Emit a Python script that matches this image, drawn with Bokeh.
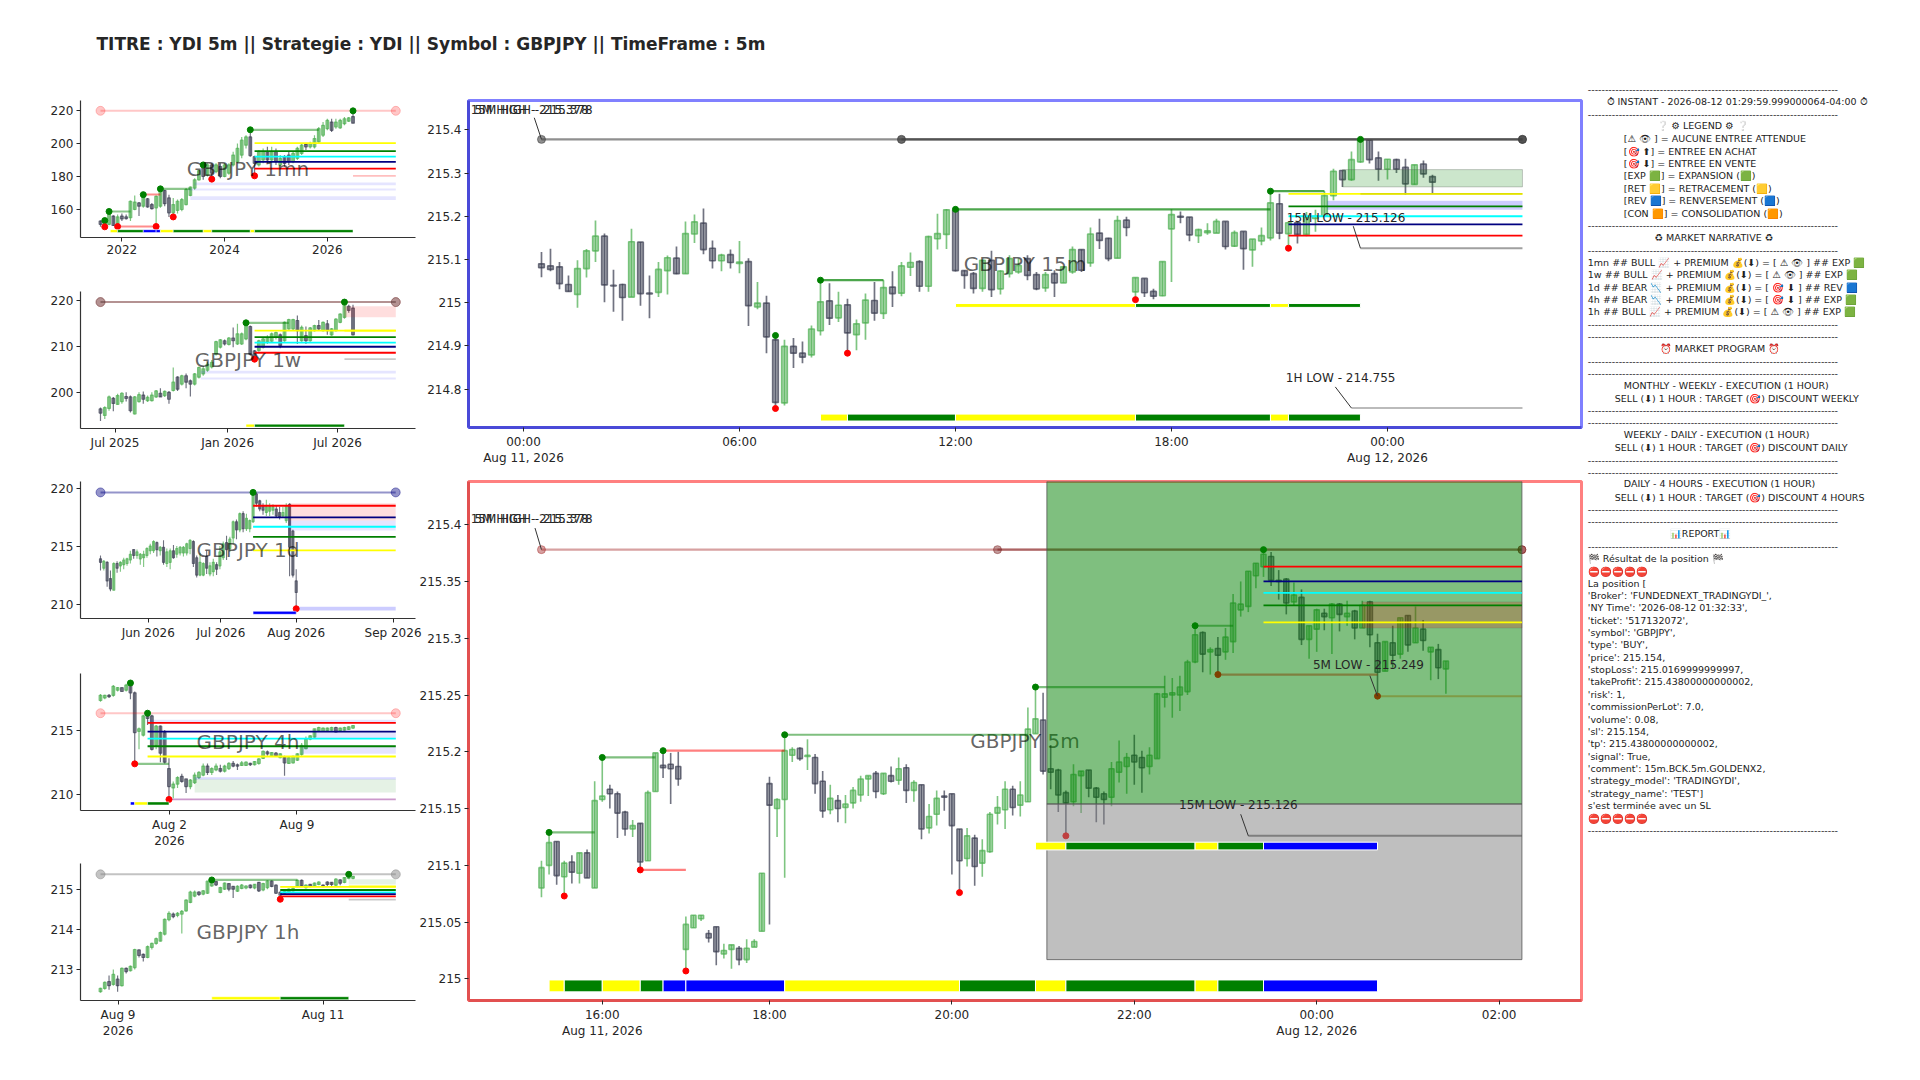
from bokeh.plotting import figure
from bokeh.layouts import column, row
from bokeh.models import FixedTicker
from bokeh.core.properties import value
from bokeh.embed import file_html
from bokeh.resources import INLINE

# ---------- 15 minute chart ----------
m15_dir = list("ddddgggddd" "gddggdggdd" "gdgdgddgdd" "ggdgdggdgd" "ggdgggdddg" "dgggddgdgg" "dgddgdgddg" "gddgggdgdg" "ggdgdggggd" "ggddgddgdd")
m15_high = [215.117,215.125,215.094,215.063,215.098,215.124,215.190,215.160,215.076,215.044,
 215.171,215.140,215.063,215.094,215.109,215.130,215.188,215.204,215.218,215.144,
 215.113,215.123,215.143,215.103,215.048,215.016,214.924,214.914,214.918,214.910,
 214.947,215.052,215.045,215.025,215.009,214.961,215.021,215.048,215.052,215.073,
 215.094,215.116,215.098,215.155,215.206,215.217,215.217,215.075,215.071,215.098,
 215.120,215.075,215.110,215.102,215.110,215.071,215.071,215.075,215.083,215.130,
 215.123,215.174,215.194,215.150,215.201,215.199,215.058,215.056,215.032,215.095,
 215.216,215.211,215.198,215.171,215.184,215.194,215.188,215.167,215.165,215.147,
 215.174,215.258,215.252,215.188,215.187,215.210,215.215,215.258,215.310,215.306,
 215.350,215.378,215.376,215.350,215.332,215.333,215.333,215.319,215.329,215.296]
m15_top = [215.090,215.085,215.083,215.042,215.079,215.120,215.154,215.154,215.040,215.042,
 215.141,215.140,215.022,215.077,215.104,215.103,215.160,215.187,215.184,215.126,
 215.110,215.111,215.094,215.095,214.999,214.999,214.914,214.899,214.899,214.883,
 214.939,215.002,215.004,214.994,214.995,214.951,215.006,215.005,215.035,215.036,
 215.085,215.093,215.095,215.153,215.160,215.215,215.214,215.074,215.067,215.098,
 215.098,215.073,215.102,215.086,215.102,215.065,215.065,215.067,215.083,215.123,
 215.123,215.159,215.161,215.149,215.190,215.191,215.058,215.056,215.026,215.095,
 215.204,215.200,215.198,215.169,215.166,215.188,215.188,215.162,215.165,215.147,
 215.155,215.231,215.229,215.185,215.185,215.198,215.200,215.248,215.304,215.306,
 215.331,215.376,215.376,215.335,215.332,215.331,215.313,215.319,215.321,215.292]
m15_bot = [215.081,215.077,215.044,215.026,215.019,215.079,215.120,215.041,215.039,215.012,
 215.013,215.021,215.020,215.024,215.074,215.067,215.067,215.159,215.123,215.097,
 215.097,215.093,215.091,214.993,214.990,214.921,214.769,214.768,214.883,214.874,
 214.879,214.935,214.964,214.965,214.930,214.926,214.953,214.976,214.975,215.021,
 215.022,215.082,215.038,215.038,215.148,215.158,215.074,215.063,215.033,215.033,
 215.030,215.032,215.067,215.071,215.063,215.032,215.034,215.046,215.046,215.071,
 215.075,215.092,215.144,215.102,215.103,215.174,215.025,215.023,215.015,215.016,
 215.171,215.198,215.157,215.155,215.162,215.161,215.130,215.131,215.125,215.122,
 215.143,215.150,215.161,215.160,215.158,215.158,215.195,215.200,215.248,215.285,
 215.285,215.326,215.331,215.309,215.309,215.309,215.275,215.274,215.298,215.279]
m15_low = [215.059,215.073,215.031,215.025,214.988,215.058,215.094,215.001,214.979,214.958,
 215.013,214.993,214.964,215.013,215.019,215.066,215.067,215.138,215.112,215.079,
 215.073,215.079,215.068,214.946,214.985,214.883,214.762,214.762,214.849,214.860,
 214.873,214.924,214.948,214.955,214.883,214.890,214.914,214.958,214.962,214.990,
 215.015,215.062,215.025,215.025,215.123,215.124,215.072,215.032,215.021,215.025,
 215.013,215.019,215.058,215.067,215.052,215.029,215.025,215.013,215.046,215.067,
 215.071,215.083,215.124,215.096,215.103,215.154,215.007,215.013,215.008,215.015,
 215.048,215.184,215.142,215.138,215.157,215.161,215.123,215.129,215.076,215.083,
 215.133,215.144,215.147,215.129,215.137,215.154,215.164,215.200,215.237,215.268,
 215.282,215.324,215.322,215.282,215.285,215.300,215.250,215.273,215.289,215.254]
m15_xticks = [-2, 22, 46, 70, 94]
m15_xlabels = ["00:00\nAug 11, 2026", "06:00", "12:00", "18:00", "00:00\nAug 12, 2026"]
m15_yticks = [214.8, 214.9, 215.0, 215.1, 215.2, 215.3, 215.4]
m15_ylabels = ["214.8", "214.9", "215", "215.1", "215.2", "215.3", "215.4"]
m15_levels = [215.252, 215.223, 215.200, 215.181, 215.155]
m15_struct = [(46, 81, 215.216), (81, 87, 215.258), (31, 38, 215.052)]
m15_hi = [(26, 214.924), (31, 215.052), (46, 215.216), (81, 215.258), (91, 215.378)]
m15_lo = [(26, 214.755), (34, 214.883), (66, 215.007), (83, 215.126)]
m15_bar_x = [31, 34, 46, 66, 81, 83, 91]
m15_bar_c = ["#ffff00", "#008000", "#ffff00", "#008000", "#ffff00", "#008000"]

# ---------- 5 minute chart ----------
m5_dir = list("ggdgdgdggd" "ddgdggdddg" "ggddggdggg" "dgggdgddgd" "ggggdgdgdg" "dggdddgdgg" "ggdgggdddd" "ggdddgggdd" "gggggggdgd" "ggggggdddg" "dggdgdgdgd" "dgdgdgdgdg")
m5_high = [215.104,215.128,215.121,215.104,215.109,215.111,215.114,215.174,215.195,215.171,
 215.165,215.148,215.140,215.137,215.166,215.199,215.201,215.199,215.200,215.055,
 215.056,215.056,215.043,215.046,215.031,215.030,215.029,215.035,215.035,215.093,
 215.178,215.159,215.216,215.204,215.204,215.211,215.198,215.183,215.171,215.162,
 215.162,215.169,215.179,215.179,215.183,215.181,215.187,215.195,215.189,215.175,
 215.171,215.154,215.166,215.166,215.163,215.132,215.133,215.127,215.123,215.147,
 215.161,215.174,215.170,215.174,215.239,215.257,215.252,215.206,215.185,215.166,
 215.189,215.183,215.184,215.169,215.165,215.191,215.210,215.199,215.215,215.201,
 215.204,215.252,215.267,215.265,215.267,215.281,215.311,215.306,215.292,215.301,
 215.309,215.339,215.350,215.359,215.366,215.378,215.376,215.360,215.353,215.349,
 215.343,215.311,215.326,215.326,215.331,215.331,215.333,215.325,215.333,215.333,
 215.304,215.297,215.311,215.318,215.320,215.328,215.316,215.292,215.295,215.280]
m5_top = [215.098,215.120,215.121,215.102,215.103,215.111,215.111,215.157,215.161,215.167,
 215.163,215.147,215.135,215.137,215.164,215.199,215.188,215.189,215.187,215.048,
 215.056,215.056,215.040,215.046,215.025,215.030,215.027,215.027,215.033,215.093,
 215.172,215.158,215.201,215.202,215.203,215.197,215.195,215.174,215.159,215.157,
 215.154,215.166,215.176,215.179,215.181,215.181,215.179,215.185,215.186,215.173,
 215.171,215.143,215.159,215.161,215.163,215.132,215.126,215.124,215.113,215.145,
 215.151,215.167,215.167,215.162,215.220,215.229,215.228,215.185,215.184,215.164,
 215.180,215.183,215.184,215.168,215.163,215.185,215.191,215.195,215.197,215.195,
 215.197,215.251,215.251,215.252,215.257,215.279,215.303,215.305,215.290,215.291,
 215.301,215.331,215.330,215.359,215.366,215.374,215.372,215.351,215.352,215.338,
 215.336,215.311,215.325,215.322,215.330,215.330,215.322,215.324,215.329,215.332,
 215.296,215.297,215.296,215.318,215.320,215.309,215.308,215.292,215.290,215.280]
m5_bot = [215.080,215.100,215.091,215.090,215.094,215.093,215.089,215.080,215.158,215.163,
 215.146,215.132,215.132,215.103,215.104,215.165,215.186,215.185,215.176,215.026,
 215.045,215.053,215.036,215.024,215.022,215.026,215.017,215.017,215.028,215.042,
 215.153,215.150,215.158,215.197,215.194,215.196,215.172,215.148,215.149,215.150,
 215.151,215.155,215.162,215.176,215.165,215.163,215.174,215.175,215.166,215.166,
 215.132,215.133,215.145,215.160,215.135,215.104,215.106,215.099,215.102,215.112,
 215.146,215.149,215.151,215.153,215.156,215.216,215.183,215.182,215.162,215.155,
 215.156,215.179,215.168,215.160,215.158,215.160,215.182,215.187,215.191,215.186,
 215.187,215.194,215.248,215.250,215.250,215.253,215.279,215.286,215.288,215.285,
 215.288,215.297,215.325,215.328,215.355,215.363,215.351,215.350,215.331,215.332,
 215.299,215.299,215.308,215.319,215.318,215.321,215.319,215.309,215.309,215.303,
 215.270,215.271,215.285,215.286,215.294,215.296,215.298,215.288,215.274,215.273]
m5_low = [215.072,215.092,215.083,215.073,215.084,215.084,215.089,215.080,215.156,215.150,
 215.124,215.126,215.125,215.096,215.104,215.165,215.177,215.154,215.170,215.007,
 215.045,215.051,215.032,215.012,215.018,215.009,215.012,215.014,215.028,215.042,
 215.048,215.125,215.089,215.191,215.192,215.184,215.163,215.142,215.145,215.138,
 215.137,215.150,215.156,215.161,215.159,215.162,215.173,215.171,215.155,215.156,
 215.123,215.128,215.135,215.148,215.092,215.076,215.099,215.082,215.090,215.111,
 215.136,215.132,215.144,215.143,215.156,215.216,215.180,215.167,215.147,215.126,
 215.152,215.146,215.160,215.138,215.136,215.152,215.173,215.163,215.171,215.164,
 215.180,215.194,215.239,215.230,215.236,215.250,215.278,215.270,215.268,215.268,
 215.281,215.287,215.319,215.323,215.344,215.354,215.346,215.334,215.321,215.329,
 215.294,215.282,215.288,215.307,215.286,215.306,215.311,215.299,215.309,215.292,
 215.249,215.271,215.274,215.282,215.288,215.296,215.289,215.263,215.264,215.251]
m5_xticks = [8, 30, 54, 78, 102, 126]
m5_xlabels = ["16:00\nAug 11, 2026", "18:00", "20:00", "22:00", "00:00\nAug 12, 2026", "02:00"]
m5_yticks = [215.0, 215.05, 215.1, 215.15, 215.2, 215.25, 215.3, 215.35, 215.4]
m5_ylabels = ["215", "215.05", "215.1", "215.15", "215.2", "215.25", "215.3", "215.35", "215.4"]
m5_levels = [215.314, 215.329, 215.340, 215.350, 215.363]
m5_struct_g = [(1, 7, 215.129), (8, 15, 215.195), (32, 64, 215.215), (65, 82, 215.257), (86, 91, 215.311)]
m5_struct_r = [(16, 32, 215.201), (13, 19, 215.096), (89, 110, 215.268)]
m5_hi = [(1, 215.129), (8, 215.195), (16, 215.201), (32, 215.215), (65, 215.257), (86, 215.311), (95, 215.378)]
m5_lo = [(3, 215.073), (13, 215.096), (19, 215.007), (55, 215.076), (69, 215.126), (89, 215.268), (110, 215.249)]
m5_bar_x = [1, 3, 8, 13, 16, 19, 32, 55, 65, 69, 86, 89, 95, 110]
m5_bar_c = ["#ffff00", "#008000", "#ffff00", "#008000", "#0000ff", "#0000ff", "#ffff00", "#008000", "#ffff00", "#008000", "#ffff00", "#008000", "#0000ff"]
m5_entry, m5_sl, m5_tp = 215.154, 215.017, 215.438

# ---------- 1 month ----------
mn_dir = list("dggdgddggd" "gddggddggg" "ggggdgdgdg" "gggggddggd" "gdgddgggdg" "ggggdggggd")
mn_top = [153,153,158,156,155.5,156,155.5,165,164.5,164,168,166.5,163,168,172.5,171.5,167,163,165,166,172,173.5,178,183.5,185,187,187,187,186,187,187,193,197,202,204,204,192,195,195,195,195,195,191,192,193,194,197,199,199.5,200,203,209,211,214,213,213,214,215,215.5,216.3]
mn_bot = [151,150,151,150.3,151.5,154.3,154.5,155,160,162,162,161.5,160.5,161,162,163.5,158,158,159.5,160,163,168.5,173,178,180,181,182,183,180,180,182,187,189,193,199,192.7,188,187,190,190,190,189,187,188,189,189,191,194,198,198,198,201,205,209,208,210,209.5,212,213.5,212.3]
mn_high = [153.5,153.3,158.8,156.5,157,157.5,157,165.5,168.5,164.5,169,167,164,168.5,173,172,169,167,166,167,173,174,179,184,187,188,188,188,188,188,188,195,200,204,205,208.3,192.5,196,197,198,198,197,193,193,195,195,198,200,200,201,205,210,213,215,215,215,215,216,216,219.8]
mn_low = [149.5,149.5,150.5,150,149.7,153,154,153,159.5,156,161,161,160,149.7,161,162,155.5,155.5,157.5,159,162.5,168,172,177.5,178,180,178.4,182,179,179.5,181,186,188,191,197,192,180.4,186,188,188,189,187,186,186,187,188,190,193,196,197,197,200,204,208,207,209,209,211,213,212.3]
mn_xticks, mn_xlabels = [5, 29, 53], ["2022", "2024", "2026"]
mn_yticks, mn_ylabels = [160, 180, 200, 220], ["160", "180", "200", "220"]
mn_levels = [200.2, 195.4, 192.1, 188.9, 184.8]
mn_struct_g = [(2, 7, 158.8), (14, 21, 172.5), (35, 51, 208.3)]
mn_struct_r = [(10, 14, 169.1), (4, 13, 149.7)]
mn_hi = [(1, 153.3), (2, 158.8), (10, 169), (14, 172.5), (24, 187), (35, 208.3), (59, 219.8)]
mn_lo = [(1, 149.5), (4, 149.7), (13, 149.7), (17, 155.5), (26, 178.4), (36, 180.4)]
mn_bar_x = [2.3, 4, 10, 13, 14, 17, 24, 26, 35, 36, 59]
mn_bar_c = ["#ffff00", "#008000", "#0000ff", "#0000ff", "#ffff00", "#008000", "#ffff00", "#008000", "#ffff00", "#008000"]

# ---------- 1 week ----------
w1_dir = list("dggdggddgg" "dgggdgdgdg" "ddgggggggd" "gdgggddggg" "ggdgggdgdg" "gdgdggggdd")
w1_top = [196.4,196.7,199,198.7,199.3,199.8,199.1,199,199,199.5,199.4,198.9,199.4,200.3,199.8,200.2,200,202.2,203.3,203.6,203.6,202.5,204,205.4,205.1,206.1,206.5,211,211.4,211.2,211.8,211.8,212.7,212.7,214.5,214.3,209,211.2,211.6,211.9,212.7,213,212.5,215.2,215.8,215.8,215.6,214.1,212.3,214,214.5,214.5,215.2,214.9,213.8,215.9,217,219.2,218.7,218.3]
w1_bot = [195.5,195,196.5,197.6,197.4,198,198.7,196,195.3,198,198.5,198.2,198.2,199,199,199.3,198.5,200.4,200.7,201.8,202.2,201.8,201.8,203.3,204,204.8,205.5,208.3,209.8,210.5,210.4,211.2,210.5,210.5,211.6,208.3,207.6,209.1,209.8,210.9,211.1,212,210.1,211.2,213.8,213.8,213.4,211.2,211.2,211.2,213.4,213.8,213.4,213.4,212.5,213.4,215.2,216.3,217.8,212.5]
w1_high = [196.7,197,199.3,199,199.7,200,200,199.3,199.2,200,200.2,199.3,200,200.5,200.9,200.4,200.3,205.4,203.5,203.8,204.1,202.8,204.2,205.6,205.7,206.6,207,211.2,211.6,211.5,212,214.1,214.9,213,215.2,214.5,209.2,211.4,211.8,212.4,213,213.2,212.8,215.4,216,216,216.7,214.5,214.3,214.2,214.7,215.7,215.4,215.7,214,216.1,217.2,219.6,219,219]
w1_low = [193.8,194.2,196,195.9,197.3,197.5,198,195.6,195.2,197.8,197.5,197.9,198,198.8,199,199,197.5,200.2,200.3,201.5,200.9,199.1,201.5,203,203.6,204.5,205.2,208,209.5,210.2,210.2,209.8,210.3,210.3,211.3,208,207.2,208.8,209.5,210.5,210.8,211.5,209.6,211,213.6,213.5,210.5,211,210.5,211,213.2,213.5,213.2,212.5,212.3,213.2,215,216,217.3,212.4]
w1_xticks, w1_xlabels = [3.4, 29.7, 55.4], ["Jul 2025", "Jan 2026", "Jul 2026"]
w1_yticks, w1_ylabels = [200, 210, 220], ["200", "210", "220"]
w1_levels = [213.4, 212.0, 210.8, 209.9, 208.6]
w1_struct_g = [(34, 44, 215.1)]
w1_hi = [(34, 215.1), (57, 219.6)]
w1_lo = [(36, 207.2)]
w1_bar_x = [34, 36, 57]
w1_bar_c = ["#ffff00", "#008000"]

# ---------- 1 day ----------
d1_dir = list("dgddgdgggg" "dggggggdgd" "ggdgggggdd" "ggdggdggdg" "gdgdgggddd" "gggddggddd")
d1_top = [213.9,213.7,213.6,212.2,213.5,213.5,213.6,213.8,213.9,214.3,214.7,214.5,214.3,214.3,214.8,215,215.4,215.3,214.9,214.9,214.5,214.6,214.6,214.8,214.9,214.9,215.2,215.5,215.4,214,213.6,213.5,214.1,213.3,213.6,213.4,214.5,215.2,215.3,215.6,217.1,217.1,217.8,217.8,217.4,217.2,219.4,219.5,218.9,218.5,218.4,218.4,218.4,218.2,217.9,217.9,218.5,218.6,216.3,212]
d1_bot = [213.6,213.1,212,211.3,211.2,213.1,213.3,213.4,213.5,213.8,214.2,214.2,213.9,214,214.2,214.6,214.6,214.7,214.6,213.6,213.5,213.6,214,214.3,214.4,214.4,214.4,214.8,213.5,212.5,212.5,212.5,213.1,212.6,212.8,213,213.3,214,214.7,214.8,215.7,216.4,216.4,216.5,216.5,216.5,217.1,218.7,218.2,218.1,217.9,218,218.1,217.6,217.5,217.6,217.2,214.9,212.5,211]
d1_high = [214.2,213.8,213.7,212.9,213.6,213.7,213.7,214,214,214.6,214.7,214.7,214.4,214.6,214.9,215.2,215.5,215.4,215,215.5,214.8,214.8,215.1,215,215,215,215.3,215.6,215.5,214.2,214.4,213.6,214.6,213.6,213.9,213.6,215,215.4,215.9,215.8,217.2,217.3,217.9,218,217.8,217.3,219.63,219.6,219,218.7,219,218.7,218.6,218.5,218.4,218.4,218.7,218.7,216.4,213]
d1_low = [212.9,212.9,211.5,211.1,211.2,212.7,212.8,213,213.3,213.5,213.9,213.9,213.4,213.2,214,214.3,214.4,214.1,214.2,213.4,213.2,213,213.9,214,214.2,214.1,214.2,214.3,213.2,212.3,212.4,212.4,212.6,212.4,212.4,212.5,213,213.8,213.8,214.5,215.2,215.6,216.2,216.2,216.3,216.2,217,218.4,218,217.7,217.6,217.6,217.7,217.5,217.3,217.5,217,212.4,212.3,209.6]
d1_xticks, d1_xlabels = [14.4, 36.3, 59, 88.2], ["Jun 2026", "Jul 2026", "Aug 2026", "Sep 2026"]
d1_yticks, d1_ylabels = [210, 215, 220], ["210", "215", "220"]
d1_levels = [214.63, 215.8, 216.67, 217.47, 218.48]
d1_hi = [(46, 219.63)]
d1_lo = [(59, 209.6)]
d1_bar_x = [46, 59]
d1_bar_c = ["#0000ff"]

# ---------- 4 hours ----------
h4_dir = list("ggdggdgddg" "gddgdddggd" "dggggdggdg" "gddggdgggd" "gdgdgggggg" "gggggdgggg")
h4_top = [217.7,217.7,217.7,218.4,218.3,218.3,218.5,218.5,217.9,215.1,216.1,216.1,216.1,215.3,215.3,214.8,212,210.8,211.3,211.4,211.2,211.1,211.5,211.7,212.2,212.2,212,212.2,212,212.2,212.4,212.4,212.3,212.45,212.5,212.4,212.55,212.75,213.35,213.3,213.25,213.2,213.15,212.9,212.85,212.95,213.15,213.8,214.3,214.55,215.1,215.2,215.15,215.15,215.2,215.2,215.15,215.2,215.25,215.35]
h4_bot = [217.3,217.5,217.6,217.7,218.1,218,218.1,217.9,214.8,214.9,214.6,215.9,213.5,213.8,213.2,212.5,210.6,210.5,210.8,211,210.6,210.6,210.9,211.3,211.5,211.7,211.7,211.9,211.8,211.8,212,212.2,212.2,212.25,212.25,212.3,212.3,212.4,212.8,213.15,213,213,212.85,212.45,212.4,212.45,212.65,213.1,213.55,214.3,214.45,214.95,214.9,214.95,215,214.85,214.95,215,215.05,215.15]
h4_high = [217.8,217.75,217.8,218.5,218.35,218.3,218.6,218.66,218,215.2,216.2,216.31,216.2,215.4,215.35,215,212.8,211,211.4,211.6,211.2,211.2,211.7,211.8,212.4,212.4,212.1,212.4,212.3,212.3,212.5,212.6,212.4,212.6,212.55,212.45,212.6,212.8,213.4,213.4,213.3,213.3,213.2,213,212.95,213,213.2,214,214.5,214.6,215.1,215.25,215.2,215.2,215.25,215.25,215.2,215.25,215.3,215.4]
h4_low = [217.2,217.4,217.5,217.6,218,218,218,217.4,212.37,213.5,214.5,215.4,213.4,213.5,212.5,212.4,209.6,209.7,210.5,210.9,210.1,210.4,210.8,211.2,211.4,211.5,211.5,211.8,211.7,211.7,211.9,212.1,211.9,212.2,212.2,212.2,212.25,212.3,212.75,213,212.9,212.9,212.8,211.45,212.35,212.4,212.6,213,213.5,214.2,214.4,214.9,214.85,214.9,214.95,214.8,214.9,214.95,215,215.1]
h4_xticks, h4_xlabels = [16.1, 45.9], ["Aug 2\n2026", "Aug 9"]
h4_yticks, h4_ylabels = [210, 215], ["210", "215"]
h4_levels = [212.94, 213.74, 214.34, 214.88, 215.56]
h4_struct_g = [(8, 16, 212.37)]
h4_hi = [(7, 218.66), (11, 216.31)]
h4_lo = [(8, 212.37), (16, 209.6)]
h4_bar_x = [7, 8, 11, 16]
h4_bar_c = ["#0000ff", "#ffff00", "#008000"]

# ---------- 1 hour ----------
h1_dir = list("ggdgdgdggd" "dggggggdgg" "gggdgggdgg" "ddgggdgdgg" "dddggggdgd" "ggdddgdggg")
h1_top = [212.53,212.68,212.7,212.88,212.76,213.03,213.03,213.08,213.5,213.49,213.38,213.57,213.65,213.77,213.92,214.25,214.4,214.38,214.4,214.45,214.73,214.93,214.93,214.93,214.96,215.2,215.25,215.19,215.04,215.15,215.14,215.07,215.07,215.1,215.08,215.1,215.12,215.17,215.14,215.2,215.2,215.1,214.92,214.96,215,215.02,215.22,215.22,215.1,215.12,215.15,215.18,215.1,215.18,215.17,215.25,215.23,215.29,215.37,215.32]
h1_bot = [212.45,212.53,212.6,212.63,212.6,212.6,212.95,212.97,213.05,213.35,213.3,213.3,213.55,213.65,213.71,213.88,214.24,214.32,214.35,214.38,214.46,214.67,214.83,214.87,214.88,214.9,215.08,215.11,214.92,215,215,215,214.95,215.02,215.03,215.04,215.03,214.96,214.98,215.04,215.07,214.9,214.85,214.9,214.93,214.96,215.07,215.08,215.04,215.07,215.08,215.12,215.07,215.12,215.12,215.1,215.15,215.17,215.27,215.27]
h1_high = [212.55,212.7,212.85,213,212.85,213.05,213.05,213.1,213.52,213.5,213.4,213.6,213.67,213.8,213.95,214.27,214.45,214.42,214.43,214.48,214.75,214.96,214.97,214.95,214.98,215.2,215.25,215.2,215.06,215.17,215.15,215.08,215.1,215.13,215.1,215.12,215.13,215.18,215.16,215.22,215.22,215.12,214.95,214.98,215.02,215.04,215.24,215.24,215.12,215.13,215.17,215.2,215.12,215.2,215.18,215.27,215.25,215.3,215.38,215.33]
h1_low = [212.42,212.5,212.5,212.6,212.45,212.58,212.9,212.95,213,213.3,213.2,213.28,213.5,213.62,213.7,213.85,214.2,214.28,214.3,213.9,214.44,214.65,214.8,214.83,214.85,214.88,215.06,215.08,214.9,214.98,214.95,214.78,214.93,215,215,215.02,215,214.93,214.95,215,215.05,214.88,214.75,214.87,214.9,214.94,215.05,215.06,215.02,215.05,215.06,215.1,215.05,215.08,215.08,215.08,215.1,215.15,215.25,215.25]
h1_xticks, h1_xlabels = [4.1, 52], ["Aug 9\n2026", "Aug 11"]
h1_yticks, h1_ylabels = [213, 214, 215], ["213", "214", "215"]
h1_levels = [215.06, 214.98, 214.92, 214.88, 214.82]
h1_struct_g = [(26, 46, 215.23)]
h1_hi = [(26, 215.23), (58, 215.37)]
h1_lo = [(42, 214.75)]
h1_bar_x = [26, 42, 58]
h1_bar_c = ["#ffff00", "#008000"]

level_colors = ["#ffff00", "#008000", "#00ffff", "#000080", "#ff0000"]
FONT = "DejaVu Sans"
TXT = "#262626"
GREEN, DARK = "#4caf50", "#3a3d50"


def make(frame_h, bottom, left, right, frame_w, xr, yr, xticks, xlabels, yticks, ylabels, box=None, top=6):
    p = figure(width=left + frame_w + right, height=top + frame_h + bottom, frame_width=frame_w, frame_height=frame_h,
               x_range=xr, y_range=yr, output_backend="svg", toolbar_location=None,
               min_border_left=left, min_border_right=right, min_border_top=top, min_border_bottom=bottom)
    p.grid.visible = False
    p.background_fill_color = "white"
    for ax, ticks, labels in ((p.xaxis[0], xticks, xlabels), (p.yaxis[0], yticks, ylabels)):
        ax.ticker = FixedTicker(ticks=ticks)
        ax.major_label_overrides = dict(zip(ticks, labels))
        ax.minor_tick_line_color = None
        ax.major_tick_out = 4
        ax.major_tick_in = 0
        ax.major_tick_line_color = "#262626"
        ax.major_label_text_font = FONT
        ax.major_label_text_font_size = "12px"
        ax.major_label_text_color = TXT
        ax.major_label_standoff = 3
        ax.axis_line_color = "#333333" if box is None else box[1]
        ax.axis_line_width = 1.2 if box is None else 3
    if box is None:
        p.outline_line_color = None
    else:
        p.outline_line_color = box[0]
        p.outline_line_width = 3
        p.border_fill_color = None
    return p


def candles(p, top, bot, high, low, dirs, w=0.62, lw=1.2):
    for name, arr in (("bot", bot), ("high", high), ("low", low), ("dirs", dirs)):
        if len(arr) != len(top):
            raise ValueError(f"{name} {len(arr)} != {len(top)}")
    for code, col in (("g", GREEN), ("d", DARK)):
        idx = [i for i, d in enumerate(dirs) if d == code]
        p.segment(idx, [high[i] for i in idx], idx, [low[i] for i in idx],
                  line_color=col, line_alpha=0.72, line_width=lw)
        p.vbar(x=idx, width=w, top=[top[i] for i in idx], bottom=[bot[i] for i in idx],
               fill_color=col, fill_alpha=0.42, line_color=col, line_alpha=0.72, line_width=lw)


def zone(p, x0, x1, y0, y1, color, alpha, edge=0.0):
    p.quad(left=[x0], right=[x1], bottom=[y0], top=[y1], fill_color=color, fill_alpha=alpha,
           line_color="#555555", line_alpha=edge, line_width=1)


def hline(p, x0, x1, y, color, alpha=1.0, lw=1.8):
    p.segment([x0], [y], [x1], [y], line_color=color, line_alpha=alpha, line_width=lw)


def levels(p, x0, x1, ys, lw=1.8):
    for y, c in zip(ys, level_colors):
        hline(p, x0, x1, y, c, 1.0, lw)


def structs(p, items, color, alpha=0.5, lw=2.2):
    for x0, x1, y in items:
        hline(p, x0, x1, y, color, alpha, lw)


def dots(p, items, color, size):
    p.scatter([a for a, _ in items], [b for _, b in items], size=size, fill_color=color, line_color=color)


def ends(p, x0, x1, y, color, alpha, size=9, lw=2):
    hline(p, x0, x1, y, color, alpha, lw)
    p.scatter([x0, x1], [y, y], size=size, fill_color=color, line_color=color, fill_alpha=alpha, line_alpha=alpha)


def bars(p, xs, cols, y0, y1, lw=1.0):
    for a, b, c in zip(xs[:-1], xs[1:], cols):
        p.quad(left=[a], right=[b], bottom=[y0], top=[y1], fill_color=c, line_color="white", line_width=lw)


def note(p, x, y, txt, size="12px", color="#262626", alpha=1.0):
    p.text([x], [y], text=[txt], text_font=value(FONT), text_font_size=size, text_color=color, text_alpha=alpha,
           text_align="center", text_baseline="middle")


def tag(p, name, xr, yr):
    note(p, (xr[0] + xr[1]) / 2, (yr[0] + yr[1]) / 2, name, "20px", "#000000", 0.62)


def callout(p, tx, ty, x0, y0, x1, y1, txt):
    note(p, tx, ty, txt)
    p.line([x0, x1], [y0, y1], line_color="#333333", line_width=1)


L, R, FW = 80, 8, 335

# 1mn
xr, yr = (-4.67, 73.6), (143.03, 226.06)
a1 = make(137, 48, L, R, FW, xr, yr, mn_xticks, mn_xlabels, mn_yticks, mn_ylabels, top=20)
candles(a1, mn_top, mn_bot, mn_high, mn_low, mn_dir)
for y0, y1, s in ((174.7, 176.4, 22), (171.5, 172.7, 20.5), (165.8, 168, 21)):
    zone(a1, s, 69, y0, y1, "#0000ff", 0.1)
levels(a1, 36, 69, mn_levels)
hline(a1, 59, 69, 180.4, "#ff0000", 0.25)
ends(a1, 0, 69, 219.8, "#ff0000", 0.22)
structs(a1, mn_struct_g, "#008000", 0.45)
structs(a1, mn_struct_r, "#ff0000", 0.45)
dots(a1, mn_hi, "#008000", 6)
dots(a1, mn_lo, "#ff0000", 6)
bars(a1, mn_bar_x, mn_bar_c, 146, 147.8, 0.5)
tag(a1, "GBPJPY 1mn", xr, yr)

# 1w
xr, yr = (-4.67, 73.6), (192.15, 221.9)
a2 = make(137, 47, L, R, FW, xr, yr, w1_xticks, w1_xlabels, w1_yticks, w1_ylabels)
candles(a2, w1_top, w1_bot, w1_high, w1_low, w1_dir)
zone(a2, 57, 69, 216.3, 218.7, "#ff0000", 0.13)
zone(a2, 23.4, 69, 204.1, 204.7, "#0000ff", 0.1)
zone(a2, 23.4, 69, 202.8, 203.2, "#0000ff", 0.1)
levels(a2, 36, 69, w1_levels)
hline(a2, 57, 69, 213.4, "#ffff00")
hline(a2, 57, 69, 207.2, "#888888", 0.45)
ends(a2, 0, 69, 219.6, "#ff0000", 0.22)
ends(a2, 0, 69, 219.6, "#444444", 0.4)
structs(a2, w1_struct_g, "#008000", 0.45)
dots(a2, w1_hi, "#008000", 6)
dots(a2, w1_lo, "#ff0000", 6)
bars(a2, w1_bar_x, w1_bar_c, 192.45, 193.1, 0.5)
tag(a2, "GBPJPY 1w", xr, yr)

# 1d
xr, yr = (-6.03, 94.97), (208.76, 220.57)
a3 = make(137, 49, L, R, FW, xr, yr, d1_xticks, d1_xlabels, d1_yticks, d1_ylabels)
candles(a3, d1_top, d1_bot, d1_high, d1_low, d1_dir, lw=1.1)
zone(a3, 57, 89, 217.2, 218.7, "#ff0000", 0.13)
zone(a3, 57, 89, 216.35, 217.2, "#0000ff", 0.1)
zone(a3, 59, 89, 209.45, 209.77, "#0000ff", 0.2)
levels(a3, 46, 89, d1_levels)
ends(a3, 0, 89, 219.63, "#000080", 0.42)
dots(a3, d1_hi, "#008000", 6)
dots(a3, d1_lo, "#ff0000", 6)
bars(a3, d1_bar_x, d1_bar_c, 209.12, 209.38, 0.5)
tag(a3, "GBPJPY 1d", xr, yr)

# 4h
xr, yr = (-4.67, 73.6), (208.74, 219.4)
a4 = make(137, 47, L, R, FW, xr, yr, h4_xticks, h4_xlabels, h4_yticks, h4_ylabels)
candles(a4, h4_top, h4_bot, h4_high, h4_low, h4_dir)
zone(a4, 11, 69, 215.5, 215.8, "#0000ff", 0.1)
zone(a4, 50, 69, 214.3, 214.9, "#0000ff", 0.1)
zone(a4, 47, 69, 213.15, 213.8, "#0000ff", 0.1)
zone(a4, 22, 69, 210.15, 211.2, "#008000", 0.1)
zone(a4, 22, 69, 211.15, 211.33, "#0000ff", 0.15)
levels(a4, 11, 69, h4_levels)
hline(a4, 16, 69, 209.6, "#800080", 0.4)
ends(a4, 0, 69, 216.31, "#ff0000", 0.22)
structs(a4, h4_struct_g, "#008000", 0.45)
dots(a4, h4_hi, "#008000", 6)
dots(a4, h4_lo, "#ff0000", 6)
bars(a4, h4_bar_x, h4_bar_c, 209.17, 209.41, 0.5)
tag(a4, "GBPJPY 4h", xr, yr)

# 1h
xr, yr = (-4.67, 73.6), (212.23, 215.64)
a5 = make(137, 50, L, R, FW, xr, yr, h1_xticks, h1_xlabels, h1_yticks, h1_ylabels)
candles(a5, h1_top, h1_bot, h1_high, h1_low, h1_dir)
zone(a5, 58, 69, 215.12, 215.25, "#008000", 0.1)
levels(a5, 42, 69, h1_levels)
hline(a5, 58, 69, 215.07, "#ffff00")
hline(a5, 58, 69, 214.74, "#888888", 0.45)
ends(a5, 0, 69, 215.37, "#888888", 0.5)
structs(a5, h1_struct_g, "#008000", 0.45)
dots(a5, h1_hi, "#008000", 6)
dots(a5, h1_lo, "#ff0000", 6)
bars(a5, h1_bar_x, h1_bar_c, 212.25, 212.325, 0.5)
tag(a5, "GBPJPY 1h", xr, yr)

# 15m main
xr, yr = (-8.11, 115.56), (214.711, 215.468)
b1 = make(327, 48, 53, 4, 1113, xr, yr, m15_xticks, m15_xlabels, m15_yticks, m15_ylabels, box=("#8080ff", "#4a4ad8"), top=20)
candles(b1, m15_top, m15_bot, m15_high, m15_low, m15_dir, w=0.62, lw=1.7)
zone(b1, 89, 109, 215.268, 215.308, "#008000", 0.2, 0.3)
zone(b1, 87.3, 109, 215.215, 215.236, "#0000ff", 0.2)
levels(b1, 83, 109, m15_levels)
hline(b1, 91, 109, 215.252, "#cccc00", 0.6)
ends(b1, 0, 109, 215.378, "#444444", 0.6, size=8, lw=2.2)
ends(b1, 40, 109, 215.378, "#444444", 0.8, size=8, lw=2.2)
structs(b1, m15_struct, "#008000", 0.7)
hline(b1, 91, 109, 215.126, "#888888", 0.8, 2)
hline(b1, 90, 109, 214.756, "#bbbbbb", 1.0, 2)
dots(b1, m15_hi, "#008000", 6)
dots(b1, m15_lo, "#ff0000", 6)
bars(b1, m15_bar_x, m15_bar_c, 214.726, 214.742)
bars(b1, m15_bar_x[2:], m15_bar_c[2:], 214.989, 214.998)
callout(b1, -1.1, 215.447, -0.8, 215.428, 0, 215.378, "15M HIGH - 215.378")
note(b1, -1.1, 215.447, "5M HIGH - 215.378")
callout(b1, 89.4, 215.196, 90.2, 215.177, 91, 215.126, "15M LOW - 215.126")
callout(b1, 88.8, 214.826, 88.2, 214.805, 90, 214.756, "1H LOW - 214.755")
tag(b1, "GBPJPY 15m", xr, yr)

# 5m main: marks under the trade zones first, bright levels and bars above them
xr, yr = (-9.6, 136.84), (214.981, 215.438)
b2 = make(519, 50, 53, 4, 1113, xr, yr, m5_xticks, m5_xlabels, m5_yticks, m5_ylabels, box=("#ff8080", "#e25050"))
candles(b2, m5_top, m5_bot, m5_high, m5_low, m5_dir, w=0.66, lw=1.6)
tag(b2, "GBPJPY 5m", xr, yr)
ends(b2, 0, 129, 215.378, "#a02020", 0.42, size=8, lw=2.2)
ends(b2, 60, 129, 215.378, "#701010", 0.42, size=8, lw=2.2)
structs(b2, m5_struct_g, "#008000", 0.5)
structs(b2, m5_struct_r, "#ff0000", 0.5)
hline(b2, 110, 129, 215.249, "#ff6000", 0.45, 2)
hline(b2, 93, 129, 215.126, "#444444", 0.7, 2)
dots(b2, m5_hi, "#008000", 6)
dots(b2, m5_lo, "#ff0000", 6)
zone(b2, 66.5, 129, m5_entry, m5_tp, "#008000", 0.5, 0.8)
zone(b2, 66.5, 129, m5_sl, m5_entry, "#808080", 0.5, 0.8)
zone(b2, 108, 129, 215.309, 215.332, "#ff0000", 0.2, 0.2)
levels(b2, 95, 129, m5_levels)
bars(b2, m5_bar_x, m5_bar_c, 214.9886, 214.9991)
bars(b2, m5_bar_x[8:], m5_bar_c[8:], 215.1136, 215.1204)
callout(b2, -1.3, 215.405, -0.85, 215.397, 0, 215.378, "15M HIGH - 215.378")
note(b2, -1.3, 215.405, "5M HIGH - 215.378")
callout(b2, 91.7, 215.153, 92, 215.145, 93, 215.126, "15M LOW - 215.126")
callout(b2, 108.8, 215.276, 109, 215.267, 110, 215.249, "5M LOW - 215.249")

# right text panel
dash = "-" * 73
rp_text = [dash, "⏱ INSTANT - 2026-08-12 01:29:59.999000064-04:00 ⏱", dash, "❔ ⚙ LEGEND ⚙ ❔",
 "[⚠ 👁 ] = AUCUNE ENTREE ATTENDUE", "[🎯 ⬆] = ENTREE EN ACHAT", "[🎯 ⬇] = ENTREE EN VENTE",
 "[EXP 🟩] = EXPANSION (🟩)", "[RET 🟨] = RETRACEMENT (🟨)", "[REV 🟦] = RENVERSEMENT (🟦)", "[CON 🟧] = CONSOLIDATION (🟧)",
 dash, "♻ MARKET NARRATIVE ♻", dash,
 "1mn ## BULL 📈 + PREMIUM 💰(⬇) = [ ⚠ 👁 ] ## EXP 🟩", "1w ## BULL 📈 + PREMIUM 💰(⬇) = [ ⚠ 👁 ] ## EXP 🟩",
 "1d ## BEAR 📉 + PREMIUM 💰(⬇) = [ 🎯 ⬇ ] ## REV 🟦", "4h ## BEAR 📉 + PREMIUM 💰(⬇) = [ 🎯 ⬇ ] ## EXP 🟩",
 "1h ## BULL 📈 + PREMIUM 💰(⬇) = [ ⚠ 👁 ] ## EXP 🟩",
 dash, dash, "⏰ MARKET PROGRAM ⏰", dash, dash,
 "MONTHLY - WEEKLY - EXECUTION (1 HOUR)", "SELL (⬇) 1 HOUR : TARGET (🎯) DISCOUNT WEEKLY", dash, dash,
 "WEEKLY - DAILY - EXECUTION (1 HOUR)", "SELL (⬇) 1 HOUR : TARGET (🎯) DISCOUNT DAILY", dash, dash,
 "DAILY - 4 HOURS - EXECUTION (1 HOUR)", "SELL (⬇) 1 HOUR : TARGET (🎯) DISCOUNT 4 HOURS", dash, dash,
 "📊REPORT📊", dash, "🏁 Résultat de la position 🏁", "⛔⛔⛔⛔⛔", "La position [",
 "'Broker': 'FUNDEDNEXT_TRADINGYDI_',", "'NY Time': '2026-08-12 01:32:33',", "'ticket': '517132072',", "'symbol': 'GBPJPY',",
 "'type': 'BUY',", "'price': 215.154,", "'stopLoss': 215.0169999999997,", "'takeProfit': 215.43800000000002,", "'risk': 1,",
 "'commissionPerLot': 7.0,", "'volume': 0.08,", "'sl': 215.154,", "'tp': 215.43800000000002,", "'signal': True,",
 "'comment': 15m.BCK.5m.GOLDENX2,", "'strategy_model': 'TRADINGYDI',", "'strategy_name': 'TEST']", "s'est terminée avec un SL", "⛔⛔⛔⛔⛔", dash]
rp_y = [89,100.7,114,125.3,137.7,150.7,162.7,175,187.7,199.7,212.7,225,236.7,250,261.7,273.7,286.7,298.7,310.7,324.3,336.3,347.7,361,373.3,
 384.7,397.7,410,422.3,434.3,446.7,460,472.3,483.3,496.7,509,521,533.3,546,557.7,570.7,582.7,595,607.3,619.7,632,644.3,656.7,669,681.3,693.7,
 706.3,718.7,730.7,743.3,755.7,767.7,780.3,792.7,805,817.7,830]
rp_x = [1587.3,1606,1587.3,1656,1623.3,1623.3,1623.3,1623.3,1623.3,1623.3,1623.3,1587.3,1654,1587.3,1587.3,1587.3,1587.3,1587.3,1587.3,1587.3,1587.3,1659.3,1587.3,1587.3,
 1623.3,1614.3,1587.3,1587.3,1623.3,1614.3,1587.3,1587.3,1623.3,1614.3,1587.3,1587.3,1669.3] + [1587.3] * 24

PX0, PY0 = 1585, 80
rp = figure(width=330, height=960, x_range=(0, 330), y_range=(960, 0), output_backend="svg", toolbar_location=None,
            min_border=0, outline_line_color=None)
rp.axis.visible = False
rp.grid.visible = False
rp.text([x - PX0 for x in rp_x], [y - PY0 for y in rp_y], text=rp_text, text_font=value(FONT), text_font_size="9.5px",
        text_color="#222222", text_align="left", text_baseline="middle")

# page title
tp = figure(width=1904, height=80, x_range=(0, 1904), y_range=(80, 0), output_backend="svg", toolbar_location=None,
            min_border=0, outline_line_color=None)
tp.axis.visible = False
tp.grid.visible = False
tp.text([96], [43], text=["TITRE : YDI 5m || Strategie : YDI || Symbol : GBPJPY || TimeFrame : 5m"], text_font=value(FONT),
        text_font_size="17px", text_font_style="bold", text_color="#262626", text_baseline="middle")

left_col = column(a1, a2, a3, a4, a5, margin=(0, -8, 0, 0))
page = column(tp, row(left_col, column(b1, b2), rp))
open("out.html", "w").write(file_html(page, INLINE))
